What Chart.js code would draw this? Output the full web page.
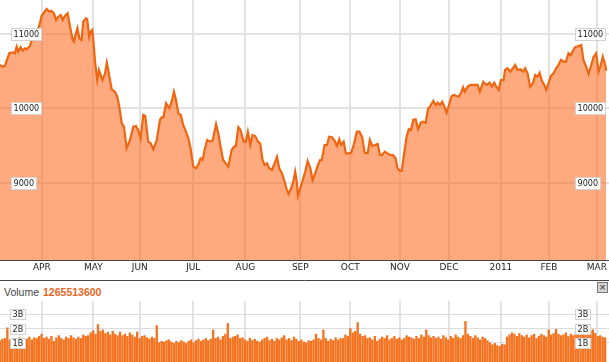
<!DOCTYPE html>
<html>
<head>
<meta charset="utf-8">
<script src="https://cdn.jsdelivr.net/npm/chart.js@4.4.0/dist/chart.umd.min.js"></script>
<style>
  body { margin: 0; background: #fff; width: 609px; height: 362px; overflow: hidden; position: relative;
         font-family: "Liberation Sans", Arial, sans-serif; }
  #price { position: absolute; left: 0; top: 0; }
  #volume { position: absolute; left: 0; top: 301px; }
  #volHead { position: absolute; left: 4px; top: 285px; font-size: 10.5px; line-height: 14px; color: #444; white-space: nowrap; }
  #volHead b { color: #e8661e; margin-left: 4px; }
  #closeBtn { position: absolute; left: 597px; top: 282px; width: 9px; height: 9px; border: 1px solid #777;
              background: #d4d4d4; color: #333; font-size: 11px; line-height: 9px; text-align: center; }
</style>
</head>
<body>
<canvas id="price" width="609" height="281"></canvas>
<div id="volHead">Volume<b>1265513600</b></div>
<div id="closeBtn">×</div>
<canvas id="volume" width="609" height="61"></canvas>
<script>
// x axis is in trading days from the first session shown
const dayMax = 248.6;
const monthLabels = ['APR', 'MAY', 'JUN', 'JUL', 'AUG', 'SEP', 'OCT', 'NOV', 'DEC', '2011', 'FEB', 'MAR'];
const monthPos = [17.1, 38.1, 57.1, 78.9, 100.2, 122.6, 143.0, 163.3, 183.3, 204.5, 224.1, 243.7];

const priceDays = [0, 1.3, 2.0, 3.8, 5.2, 6.1, 6.8, 7.5, 8.4, 9.3,
    10.2, 10.9, 12.2, 12.9, 14.5, 16.0, 17.0, 17.7, 19.1, 20.1,
    21.1, 22.0, 22.9, 23.8, 24.8, 25.6, 26.5, 27.6, 28.6, 29.7,
    30.2, 31.0, 31.6, 32.4, 33.3, 34.0, 35.1, 35.6, 36.4, 37.0,
    37.7, 38.1, 38.8, 39.7, 40.4, 41.1, 41.8, 42.9, 43.6, 44.2,
    44.9, 45.6, 46.9, 47.9, 48.7, 49.7, 50.6, 51.7, 53.1, 54.4,
    55.5, 56.4, 57.4, 58.5, 59.3, 60.5, 61.5, 62.6, 64.0, 65.3,
    66.0, 66.7, 67.8, 69.1, 70.1, 71.0, 71.8, 72.8, 73.8, 74.8,
    75.9, 76.9, 77.8, 78.9, 80.0, 80.9, 81.9, 82.7, 83.7, 84.6,
    85.7, 86.8, 88.2, 89.1, 90.1, 91.1, 92.2, 93.2, 94.6, 95.5,
    96.3, 97.3, 98.2, 99.5, 100.4, 101.2, 102.2, 103.1, 104.2, 105.3,
    106.2, 107.2, 108.0, 109.0, 109.9, 111.0, 112.1, 113.1, 114.0, 115.1,
    116.2, 117.1, 117.8, 118.9, 119.9, 120.5, 121.2, 121.6, 122.6, 123.6,
    124.6, 125.6, 126.7, 127.6, 128.7, 129.8, 130.7, 131.4, 132.5, 133.5,
    134.4, 135.5, 136.6, 137.6, 138.5, 139.3, 140.3, 141.2, 142.3, 143.4,
    144.4, 145.7, 146.7, 147.8, 148.9, 150.1, 151.0, 152.0, 153.1, 154.2,
    155.1, 156.0, 157.1, 158.2, 159.2, 160.5, 161.5, 162.3, 163.3, 164.0,
    165.0, 166.0, 166.9, 167.8, 168.7, 169.7, 170.7, 171.8, 172.8, 173.8,
    174.8, 175.5, 176.9, 177.8, 178.7, 179.6, 180.5, 181.3, 182.3, 183.3,
    184.4, 185.4, 186.4, 187.3, 188.2, 189.1, 189.8, 190.9, 192.2, 193.6,
    195.0, 195.9, 197.3, 198.2, 198.8, 199.9, 200.8, 201.8, 202.6, 203.6,
    204.5, 205.6, 206.2, 207.2, 208.3, 209.4, 210.3, 211.3, 212.4, 213.5,
    214.4, 215.4, 216.4, 217.6, 218.5, 219.5, 220.3, 221.2, 222.2, 223.0,
    224.0, 224.9, 226.0, 227.1, 228.0, 229.0, 230.1, 231.1, 232.1, 233.1,
    233.9, 234.8, 236.2, 237.3, 238.2, 239.3, 240.3, 241.2, 242.3, 243.4,
    244.4, 245.3, 246.1, 247.1, 247.5];

const priceClose = [10586, 10563, 10573, 10744, 10757, 10744, 10833, 10765, 10825, 10779,
    10811, 10798, 10842, 10914, 10977, 11112, 11247, 11283, 11341, 11305,
    11314, 11283, 11193, 11237, 11260, 11193, 11247, 11283, 11102, 10923,
    10900, 11013, 11081, 10946, 10923, 11170, 11216, 11202, 10968, 11035,
    11058, 10923, 10631, 10384, 10519, 10451, 10384, 10474, 10617, 10519,
    10384, 10259, 10226, 10159, 10024, 9801, 9755, 9464, 9575, 9755,
    9764, 9710, 9598, 9912, 9899, 9553, 9531, 9450, 9575, 9845,
    9881, 9881, 10070, 10003, 10092, 10226, 10124, 9935, 9912, 9778,
    9687, 9598, 9464, 9216, 9194, 9239, 9329, 9306, 9464, 9575,
    9553, 9566, 9791, 9666, 9477, 9306, 9261, 9216, 9441, 9485,
    9495, 9747, 9710, 9553, 9553, 9687, 9508, 9643, 9629, 9553,
    9531, 9306, 9239, 9261, 9194, 9171, 9261, 9350, 9194, 9127,
    9013, 8902, 8848, 8925, 9036, 9148, 9013, 8821, 8925, 9036,
    9148, 9292, 9194, 9036, 9127, 9239, 9306, 9306, 9508, 9508,
    9620, 9612, 9566, 9495, 9585, 9508, 9553, 9396, 9396, 9404,
    9508, 9687, 9687, 9620, 9404, 9396, 9575, 9495, 9508, 9522,
    9373, 9373, 9418, 9396, 9373, 9373, 9329, 9194, 9158, 9158,
    9396, 9620, 9720, 9710, 9845, 9854, 9720, 9809, 9822, 9809,
    10003, 10024, 10105, 10047, 10078, 10047, 10092, 10034, 9943, 10047,
    10168, 10182, 10168, 10159, 10213, 10286, 10226, 10294, 10317, 10317,
    10317, 10226, 10361, 10330, 10317, 10348, 10294, 10348, 10294, 10249,
    10384, 10384, 10519, 10542, 10496, 10542, 10586, 10519, 10528, 10496,
    10542, 10474, 10294, 10340, 10451, 10429, 10482, 10375, 10317, 10249,
    10348, 10438, 10474, 10542, 10586, 10654, 10631, 10631, 10744, 10721,
    10779, 10825, 10842, 10856, 10654, 10563, 10465, 10563, 10690, 10744,
    10496, 10586, 10698, 10586, 10509];

const priceTicks = [9000, 10000, 11000];
const priceTickLabels = ['9000', '10000', '11000'];

// daily volume, billions of shares
const volume = [1.15, 1.25, 1.3, 2.05, 1.2, 1.3, 1.1, 1.25, 1.35, 1.2,
    1.3, 1.25, 1.4, 1.2, 1.35, 1.3, 1.45, 1.6, 1.3, 1.4,
    1.25, 1.45, 1.1, 1.35, 1.5, 1.3, 1.2, 1.4, 1.3, 1.5,
    1.35, 1.25, 1.4, 1.3, 1.55, 1.45, 1.5, 1.7, 1.85, 1.6,
    2.28, 1.8, 1.9, 1.65, 1.75, 1.55, 1.8, 1.6, 1.5, 1.75,
    1.5, 1.6, 1.45, 1.7, 1.55, 1.4, 1.75, 1.3, 1.45, 1.5,
    1.35, 1.25, 1.4, 1.3, 2.2, 1.0, 1.1, 1.05, 1.15, 1.2,
    1.05, 0.95, 1.1, 1.0, 1.15, 1.05, 0.95, 1.1, 1.2, 1.0,
    1.15, 1.25, 1.1, 1.2, 1.3, 1.15, 1.25, 1.9, 1.3, 1.4,
    1.2, 1.45, 1.6, 2.35, 1.3, 1.4, 1.45, 1.55, 1.3, 1.35,
    1.2, 1.1, 1.3, 1.15, 1.25, 1.1, 1.05, 1.2, 1.3, 1.4,
    1.15, 1.25, 1.1, 1.3, 1.2, 1.35, 1.5, 1.2, 1.3, 1.15,
    1.4, 1.25, 1.1, 1.2, 1.05, 1.0, 1.15, 1.1, 1.2, 1.6,
    1.3, 1.2, 1.9, 1.3, 1.1, 1.25, 1.15, 1.35, 1.2, 1.3,
    1.3, 1.55, 1.45, 2.0, 1.7, 1.8, 2.42, 1.6, 1.45, 1.5,
    1.3, 1.35, 1.2, 1.45, 1.1, 1.25, 1.4, 1.3, 1.5, 1.2,
    1.3, 1.45, 1.25, 1.35, 1.2, 1.3, 1.5, 1.4, 1.35, 1.25,
    1.45, 1.3, 1.55, 1.4, 1.9, 1.5, 1.35, 1.45, 1.3, 1.4,
    1.25, 1.5, 1.35, 1.2, 1.45, 1.3, 1.55, 1.4, 1.3, 1.5,
    2.5, 1.6, 1.45, 1.3, 1.5, 1.35, 1.2, 1.4, 1.3, 1.15,
    1.0, 0.85, 0.95, 0.8, 0.75, 0.9, 0.85, 1.4, 1.55, 1.7,
    1.6, 1.45, 1.65, 1.5, 1.4, 1.55, 1.35, 1.5, 1.6, 1.3,
    1.45, 1.6, 1.5, 1.4, 1.9, 1.55, 1.65, 1.95, 1.6, 1.5,
    1.55, 1.7, 1.45, 1.6, 1.5, 1.65, 1.8, 1.55, 1.9, 1.7,
    1.6, 1.8, 1.92, 1.65, 1.45, 1.5, 1.4, 1.35];

const volumeTicks = [1, 2, 3];
const volumeTickLabels = ['1B', '2B', '3B'];
const volMin = -0.36;
const volMax = 3.94;

function monthGrid(axis) {
    axis.ticks = monthPos.map(v => ({ value: v }));
}

// white boxed labels sitting inside the plot, on both sides
function boxLabels(id, values, labels, lefts, boxH) {
    return {
        id: id,
        afterDatasetsDraw(chart) {
            const ctx = chart.ctx;
            const y = chart.scales.y;
            ctx.save();
            ctx.font = '9px "DejaVu Sans Condensed", "Liberation Sans", sans-serif';
            ctx.textBaseline = 'middle';
            ctx.lineWidth = 1;
            for (let i = 0; i < values.length; i++) {
                const py = Math.round(y.getPixelForValue(values[i]));
                const w = Math.ceil(ctx.measureText(labels[i]).width) + 5;
                const top = py - Math.floor(boxH / 2);
                lefts.forEach(x0 => {
                    ctx.fillStyle = '#fff';
                    ctx.fillRect(x0, top, w, boxH);
                    ctx.strokeStyle = '#d2d2d2';
                    ctx.strokeRect(x0 + 0.5, top + 0.5, w - 1, boxH - 1);
                    ctx.fillStyle = '#1a1a1a';
                    ctx.fillText(labels[i], x0 + 2.5, py + 0.5);
                });
            }
            ctx.restore();
        }
    };
}

const stripLine = {
    id: 'stripLine',
    afterDraw(chart) {
        const ctx = chart.ctx;
        const yy = chart.scales.x.bottom - 0.5;
        ctx.save();
        ctx.strokeStyle = '#444';
        ctx.lineWidth = 1;
        ctx.beginPath();
        ctx.moveTo(0, yy);
        ctx.lineTo(chart.width, yy);
        ctx.stroke();
        ctx.restore();
    }
};

new Chart(document.getElementById('price'), {
    type: 'line',
    data: {
        datasets: [{
            data: priceDays.map((d, i) => ({ x: d, y: priceClose[i] })),
            borderColor: '#ef6610',
            borderWidth: 2.2,
            backgroundColor: 'rgba(255,100,20,0.55)',
            fill: 'start',
            pointRadius: 0,
            tension: 0
        }]
    },
    options: {
        responsive: false,
        animation: false,
        layout: { padding: 0, autoPadding: false },
        plugins: { legend: { display: false }, tooltip: { enabled: false } },
        scales: {
            x: {
                type: 'linear', min: 0, max: dayMax,
                afterBuildTicks: monthGrid,
                afterFit: s => { s.height = 21; },
                grid: { color: '#e2e2e2', lineWidth: 2, drawTicks: false },
                border: { display: true, color: '#444', width: 1 },
                ticks: {
                    autoSkip: false, maxRotation: 0, padding: 2, color: '#222',
                    font: { family: 'DejaVu Sans', size: 9 },
                    callback: (v, i) => monthLabels[i]
                }
            },
            y: {
                min: 7958, max: 11462,
                afterBuildTicks: a => { a.ticks = priceTicks.map(v => ({ value: v })); },
                grid: { color: '#e2e2e2', lineWidth: 2, drawTicks: false },
                border: { display: false },
                ticks: { display: false }
            }
        }
    },
    plugins: [boxLabels('priceBoxes', priceTicks, priceTickLabels, [11, 575], 13), stripLine]
});

new Chart(document.getElementById('volume'), {
    type: 'bar',
    data: {
        datasets: [{
            data: volume.map((v, i) => ({ x: i, y: v })),
            backgroundColor: '#f47320',
            barThickness: 1.7,
            base: volMin
        }]
    },
    options: {
        responsive: false,
        animation: false,
        layout: { padding: 0, autoPadding: false },
        plugins: { legend: { display: false }, tooltip: { enabled: false } },
        scales: {
            x: {
                type: 'linear', min: 0, max: dayMax, offset: false,
                afterBuildTicks: monthGrid,
                grid: { color: '#e2e2e2', lineWidth: 2, drawTicks: false, offset: false },
                border: { display: false },
                ticks: { display: false }
            },
            y: {
                min: volMin, max: volMax,
                afterBuildTicks: a => { a.ticks = volumeTicks.map(v => ({ value: v })); },
                grid: { color: '#dcdcdc', lineWidth: 1, drawTicks: false },
                border: { display: false },
                ticks: { display: false }
            }
        }
    },
    plugins: [boxLabels('volBoxes', volumeTicks, volumeTickLabels, [10, 575], 11)]
});
</script>
</body>
</html>
